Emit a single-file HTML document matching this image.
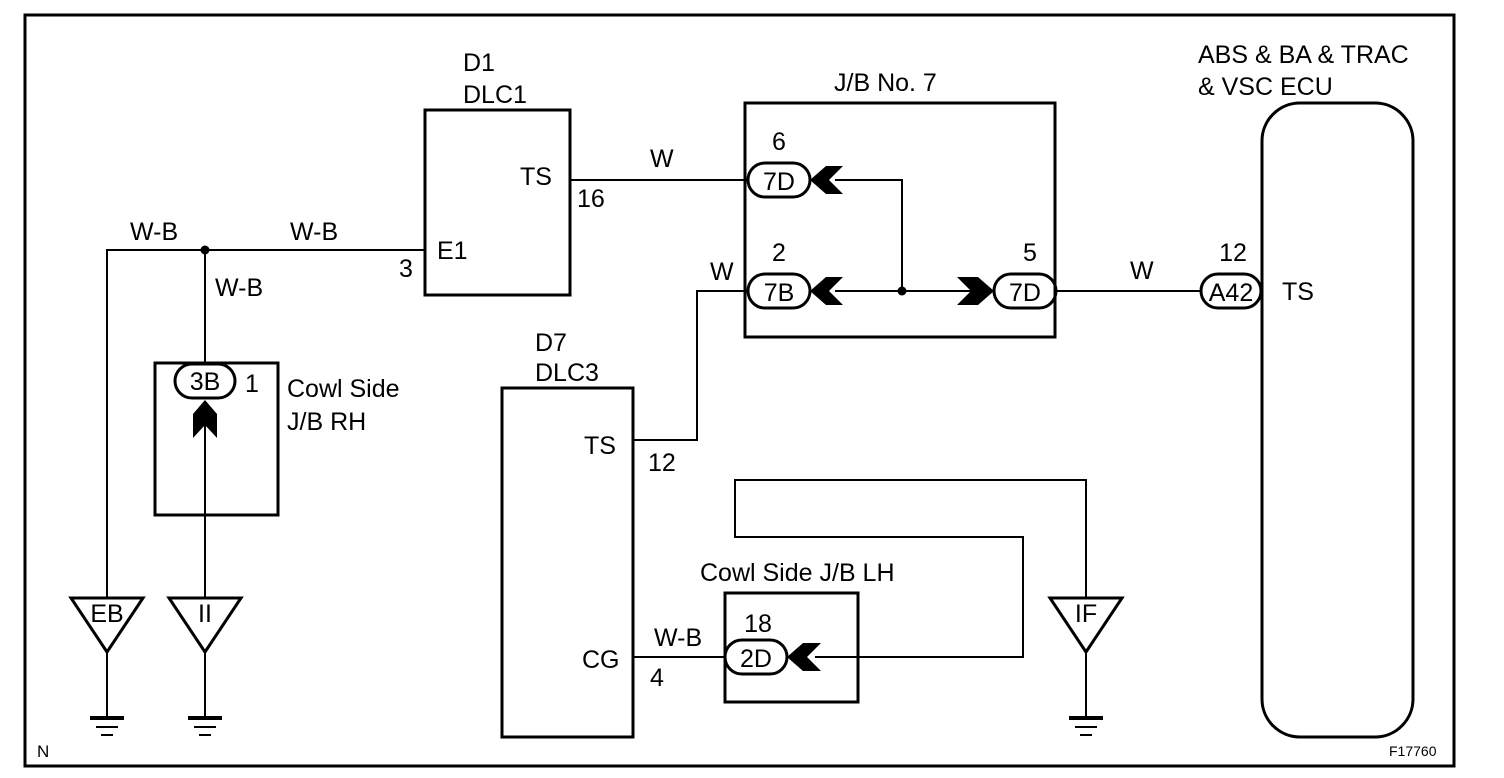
<!DOCTYPE html>
<html><head><meta charset="utf-8"><style>
html,body{margin:0;padding:0;background:#fff}
svg{display:block}
text{font-family:"Liberation Sans",Arial,sans-serif;font-size:25px;fill:#000}
.c{text-anchor:middle}
</style></head><body>
<svg width="1504" height="778" viewBox="0 0 1504 778">
<rect x="25" y="15" width="1429" height="751" fill="none" stroke="#000" stroke-width="3"/>
<g fill="none" stroke="#000" stroke-width="2">
<rect x="425" y="110" width="145" height="185" stroke-width="3"/>
<rect x="745" y="103" width="310" height="234" stroke-width="3"/>
<rect x="155" y="363" width="123" height="152" stroke-width="3"/>
<rect x="502" y="388" width="131" height="349" stroke-width="3"/>
<rect x="725" y="593" width="133" height="109" stroke-width="3"/>
<rect x="1262" y="103" width="151" height="634" rx="38" stroke-width="3"/>
<polyline points="570,180 748,180"/>
<polyline points="107,598 107,250 425,250"/>
<polyline points="205,250 205,364"/>
<polyline points="205,420 205,598"/>
<polyline points="835,180 902,180 902,291"/>
<polyline points="835,291 975,291"/>
<polyline points="1055,291 1201,291"/>
<polyline points="633,440 697,440 697,291 748,291"/>
<polyline points="633,657 725,657"/>
<polyline points="815,657 1023,657 1023,537 735,537 735,480 1086,480 1086,598"/>
<rect x="748" y="163" width="62" height="34" rx="17" stroke-width="3"/>
<rect x="748" y="274" width="62" height="34" rx="17" stroke-width="3"/>
<rect x="994" y="274" width="62" height="34" rx="17" stroke-width="3"/>
<rect x="1201" y="274" width="60" height="34" rx="17" stroke-width="3"/>
<rect x="175" y="364" width="60" height="34" rx="17" stroke-width="3"/>
<rect x="725" y="640" width="62" height="34" rx="17" stroke-width="3"/>
<polygon points="71,598 143,598 107,652" stroke-width="3"/>
<polygon points="169,598 241,598 205,652" stroke-width="3"/>
<polygon points="1050,598 1122,598 1086,652" stroke-width="3"/>
<polyline points="107,652 107,718"/>
<polyline points="205,652 205,718"/>
<polyline points="1086,652 1086,718"/>
</g>
<g fill="#000">
<polygon points="810,180 826,166 843,166 829,180 843,194 826,194"/>
<polygon points="810,291 826,277 843,277 829,291 843,305 826,305"/>
<polygon points="994,291 978,277 957,277 971,291 957,305 978,305"/>
<polygon points="787,657 803,643 821,643 807,657 821,671 803,671"/>
<polygon points="205,400 193,414 193,438 205,425 217,438 217,414"/>
<circle cx="205" cy="250" r="4.5"/>
<circle cx="902" cy="291" r="4.5"/>
<rect x="90" y="716" width="34" height="4"/><rect x="96" y="726" width="22" height="2"/><rect x="101" y="734" width="12" height="2"/>
<rect x="188" y="716" width="34" height="4"/><rect x="194" y="726" width="22" height="2"/><rect x="199" y="734" width="12" height="2"/>
<rect x="1069" y="716" width="34" height="4"/><rect x="1075" y="726" width="22" height="2"/><rect x="1080" y="734" width="12" height="2"/>
</g>
<text x="463" y="71">D1</text>
<text x="463" y="103">DLC1</text>
<text x="520" y="185">TS</text>
<text x="577" y="207">16</text>
<text x="437" y="259">E1</text>
<text x="399" y="277">3</text>
<text x="650" y="167">W</text>
<text x="130" y="240">W-B</text>
<text x="290" y="240">W-B</text>
<text x="215" y="296">W-B</text>
<text x="205" y="390" class="c">3B</text>
<text x="245" y="392">1</text>
<text x="287" y="397">Cowl Side</text>
<text x="287" y="430">J/B RH</text>
<text x="107" y="622" class="c">EB</text>
<text x="205" y="622" class="c">II</text>
<text x="1086" y="622" class="c">IF</text>
<text x="834" y="91">J/B No. 7</text>
<text x="779" y="150" class="c">6</text>
<text x="779" y="190" class="c">7D</text>
<text x="779" y="261" class="c">2</text>
<text x="779" y="301" class="c">7B</text>
<text x="1030" y="261" class="c">5</text>
<text x="1025" y="301" class="c">7D</text>
<text x="1130" y="279">W</text>
<text x="1233" y="261" class="c">12</text>
<text x="1231" y="301" class="c">A42</text>
<text x="1282" y="300">TS</text>
<text x="1198" y="63">ABS &amp; BA &amp; TRAC</text>
<text x="1198" y="95">&amp; VSC ECU</text>
<text x="710" y="280">W</text>
<text x="535" y="351">D7</text>
<text x="535" y="381">DLC3</text>
<text x="584" y="454">TS</text>
<text x="648" y="471">12</text>
<text x="582" y="668">CG</text>
<text x="650" y="686">4</text>
<text x="654" y="646">W-B</text>
<text x="700" y="581">Cowl Side J/B LH</text>
<text x="758" y="632" class="c">18</text>
<text x="756" y="667" class="c">2D</text>
<text x="37" y="757" style="font-size:17px">N</text>
<text x="1389" y="756" style="font-size:14px">F17760</text>
</svg>
</body></html>
